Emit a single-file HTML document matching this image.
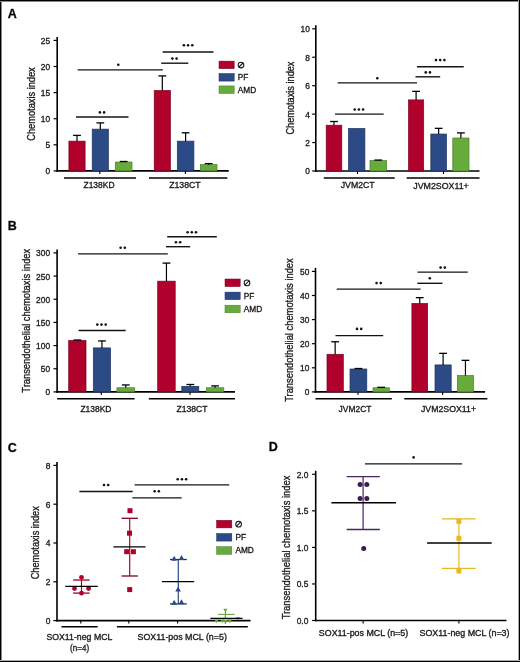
<!DOCTYPE html>
<html><head><meta charset="utf-8"><title>Figure</title>
<style>
html,body{margin:0;padding:0;background:#fff;}
svg{display:block;will-change:transform;font-family:"Liberation Sans", sans-serif;}
text{stroke:#1a1a1a;stroke-width:0.32px;}
</style></head>
<body>
<svg width="520" height="662" viewBox="0 0 520 662">
<rect x="0" y="0" width="520" height="662" fill="#fff"/>
<line x1="0.50" y1="0.00" x2="0.50" y2="662.00" stroke="#000" stroke-width="1"/>
<line x1="1.50" y1="0.00" x2="1.50" y2="662.00" stroke="#888" stroke-width="1"/>
<line x1="0.00" y1="0.50" x2="520.00" y2="0.50" stroke="#000" stroke-width="1"/>
<line x1="0.00" y1="1.50" x2="520.00" y2="1.50" stroke="#888" stroke-width="1"/>
<line x1="519.50" y1="0.00" x2="519.50" y2="662.00" stroke="#000" stroke-width="1"/>
<line x1="518.50" y1="0.00" x2="518.50" y2="662.00" stroke="#aaa" stroke-width="1"/>
<line x1="0.00" y1="661.50" x2="520.00" y2="661.50" stroke="#000" stroke-width="1"/>
<line x1="0.00" y1="660.50" x2="520.00" y2="660.50" stroke="#aaa" stroke-width="1"/>
<text x="7.80" y="18.30" font-size="12.5" text-anchor="start" font-weight="bold" fill="#000">A</text>
<text x="7.80" y="229.50" font-size="12.5" text-anchor="start" font-weight="bold" fill="#000">B</text>
<text x="7.80" y="451.50" font-size="12.5" text-anchor="start" font-weight="bold" fill="#000">C</text>
<text x="268.80" y="451.00" font-size="12.5" text-anchor="start" font-weight="bold" fill="#000">D</text>
<line x1="57.20" y1="36.90" x2="57.20" y2="171.70" stroke="#000" stroke-width="1.6"/>
<line x1="53.60" y1="170.90" x2="57.20" y2="170.90" stroke="#000" stroke-width="1.2"/>
<text x="50.20" y="174.32" font-size="8.4" text-anchor="end" font-weight="normal" fill="#1a1a1a">0</text>
<line x1="53.60" y1="144.80" x2="57.20" y2="144.80" stroke="#000" stroke-width="1.2"/>
<text x="50.20" y="148.22" font-size="8.4" text-anchor="end" font-weight="normal" fill="#1a1a1a">5</text>
<line x1="53.60" y1="118.70" x2="57.20" y2="118.70" stroke="#000" stroke-width="1.2"/>
<text x="50.20" y="122.12" font-size="8.4" text-anchor="end" font-weight="normal" fill="#1a1a1a">10</text>
<line x1="53.60" y1="92.60" x2="57.20" y2="92.60" stroke="#000" stroke-width="1.2"/>
<text x="50.20" y="96.02" font-size="8.4" text-anchor="end" font-weight="normal" fill="#1a1a1a">15</text>
<line x1="53.60" y1="66.50" x2="57.20" y2="66.50" stroke="#000" stroke-width="1.2"/>
<text x="50.20" y="69.92" font-size="8.4" text-anchor="end" font-weight="normal" fill="#1a1a1a">20</text>
<line x1="53.60" y1="40.40" x2="57.20" y2="40.40" stroke="#000" stroke-width="1.2"/>
<text x="50.20" y="43.82" font-size="8.4" text-anchor="end" font-weight="normal" fill="#1a1a1a">25</text>
<text x="34.60" y="104.00" font-size="10.0" text-anchor="middle" font-weight="normal" fill="#1a1a1a" textLength="73.40" lengthAdjust="spacingAndGlyphs" transform="rotate(-90 34.60 104.00)">Chemotaxis index</text>
<line x1="56.40" y1="170.90" x2="228.80" y2="170.90" stroke="#000" stroke-width="1.6"/>
<line x1="99.80" y1="170.90" x2="99.80" y2="173.90" stroke="#000" stroke-width="1.1"/>
<line x1="185.40" y1="170.90" x2="185.40" y2="173.90" stroke="#000" stroke-width="1.1"/>
<rect x="68.90" y="141.15" width="16.20" height="29.75" fill="#b0002c" stroke="#7d0020" stroke-width="0.7"/>
<line x1="77.00" y1="135.40" x2="77.00" y2="141.15" stroke="#000" stroke-width="1.2"/>
<line x1="73.10" y1="135.40" x2="80.90" y2="135.40" stroke="#000" stroke-width="1.3"/>
<rect x="92.20" y="129.14" width="16.20" height="41.76" fill="#2c4a86" stroke="#1e3462" stroke-width="0.7"/>
<line x1="100.30" y1="122.88" x2="100.30" y2="129.14" stroke="#000" stroke-width="1.2"/>
<line x1="96.40" y1="122.88" x2="104.20" y2="122.88" stroke="#000" stroke-width="1.3"/>
<rect x="115.30" y="162.03" width="16.70" height="8.87" fill="#66ab3c" stroke="#4a7f2a" stroke-width="0.7"/>
<line x1="123.65" y1="161.50" x2="123.65" y2="162.03" stroke="#000" stroke-width="1.2"/>
<line x1="119.75" y1="161.50" x2="127.55" y2="161.50" stroke="#000" stroke-width="1.3"/>
<rect x="154.20" y="90.51" width="16.20" height="80.39" fill="#b0002c" stroke="#7d0020" stroke-width="0.7"/>
<line x1="162.30" y1="75.90" x2="162.30" y2="90.51" stroke="#000" stroke-width="1.2"/>
<line x1="158.40" y1="75.90" x2="166.20" y2="75.90" stroke="#000" stroke-width="1.3"/>
<rect x="177.30" y="141.15" width="16.60" height="29.75" fill="#2c4a86" stroke="#1e3462" stroke-width="0.7"/>
<line x1="185.60" y1="132.79" x2="185.60" y2="141.15" stroke="#000" stroke-width="1.2"/>
<line x1="181.70" y1="132.79" x2="189.50" y2="132.79" stroke="#000" stroke-width="1.3"/>
<rect x="200.40" y="164.64" width="16.60" height="6.26" fill="#66ab3c" stroke="#4a7f2a" stroke-width="0.7"/>
<line x1="208.70" y1="163.59" x2="208.70" y2="164.64" stroke="#000" stroke-width="1.2"/>
<line x1="204.80" y1="163.59" x2="212.60" y2="163.59" stroke="#000" stroke-width="1.3"/>
<line x1="64.00" y1="177.90" x2="136.00" y2="177.90" stroke="#000" stroke-width="1.5"/>
<line x1="149.00" y1="177.90" x2="227.40" y2="177.90" stroke="#000" stroke-width="1.5"/>
<text x="99.00" y="188.10" font-size="8.6" text-anchor="middle" font-weight="normal" fill="#1a1a1a" textLength="31.00" lengthAdjust="spacingAndGlyphs">Z138KD</text>
<text x="184.90" y="188.10" font-size="8.6" text-anchor="middle" font-weight="normal" fill="#1a1a1a" textLength="31.50" lengthAdjust="spacingAndGlyphs">Z138CT</text>
<line x1="76.00" y1="117.00" x2="128.50" y2="117.00" stroke="#151515" stroke-width="1.4"/>
<circle cx="99.90" cy="112.40" r="1.3" fill="#111"/>
<circle cx="104.10" cy="112.40" r="1.3" fill="#111"/>
<line x1="77.70" y1="69.90" x2="162.80" y2="69.90" stroke="#151515" stroke-width="1.4"/>
<circle cx="118.30" cy="64.70" r="1.3" fill="#111"/>
<line x1="161.20" y1="63.20" x2="188.30" y2="63.20" stroke="#151515" stroke-width="1.4"/>
<circle cx="172.40" cy="58.60" r="1.3" fill="#111"/>
<circle cx="176.60" cy="58.60" r="1.3" fill="#111"/>
<line x1="162.70" y1="52.00" x2="213.50" y2="52.00" stroke="#151515" stroke-width="1.4"/>
<circle cx="183.90" cy="45.20" r="1.3" fill="#111"/>
<circle cx="188.10" cy="45.20" r="1.3" fill="#111"/>
<circle cx="192.30" cy="45.20" r="1.3" fill="#111"/>
<rect x="219.00" y="61.10" width="15.20" height="7.60" fill="#b0002c" stroke="#7d0020" stroke-width="0.5"/>
<circle cx="241.00" cy="65.00" r="2.85" fill="none" stroke="#1a1a1a" stroke-width="1.05"/>
<line x1="239.00" y1="67.00" x2="243.00" y2="63.00" stroke="#1a1a1a" stroke-width="1.1"/>
<rect x="219.00" y="73.50" width="15.20" height="7.60" fill="#2c4a86" stroke="#1e3462" stroke-width="0.5"/>
<text x="237.80" y="80.29" font-size="8.3" text-anchor="start" font-weight="normal" fill="#1a1a1a">PF</text>
<rect x="219.00" y="85.90" width="15.20" height="7.60" fill="#66ab3c" stroke="#4a7f2a" stroke-width="0.5"/>
<text x="237.80" y="92.69" font-size="8.3" text-anchor="start" font-weight="normal" fill="#1a1a1a">AMD</text>
<line x1="315.80" y1="25.30" x2="315.80" y2="171.80" stroke="#000" stroke-width="1.6"/>
<line x1="312.20" y1="171.00" x2="315.80" y2="171.00" stroke="#000" stroke-width="1.2"/>
<text x="309.90" y="174.42" font-size="8.4" text-anchor="end" font-weight="normal" fill="#1a1a1a">0</text>
<line x1="312.20" y1="142.56" x2="315.80" y2="142.56" stroke="#000" stroke-width="1.2"/>
<text x="309.90" y="145.98" font-size="8.4" text-anchor="end" font-weight="normal" fill="#1a1a1a">2</text>
<line x1="312.20" y1="114.12" x2="315.80" y2="114.12" stroke="#000" stroke-width="1.2"/>
<text x="309.90" y="117.54" font-size="8.4" text-anchor="end" font-weight="normal" fill="#1a1a1a">4</text>
<line x1="312.20" y1="85.68" x2="315.80" y2="85.68" stroke="#000" stroke-width="1.2"/>
<text x="309.90" y="89.10" font-size="8.4" text-anchor="end" font-weight="normal" fill="#1a1a1a">6</text>
<line x1="312.20" y1="57.24" x2="315.80" y2="57.24" stroke="#000" stroke-width="1.2"/>
<text x="309.90" y="60.66" font-size="8.4" text-anchor="end" font-weight="normal" fill="#1a1a1a">8</text>
<line x1="312.20" y1="28.80" x2="315.80" y2="28.80" stroke="#000" stroke-width="1.2"/>
<text x="309.90" y="32.22" font-size="8.4" text-anchor="end" font-weight="normal" fill="#1a1a1a">10</text>
<text x="294.00" y="98.05" font-size="10.0" text-anchor="middle" font-weight="normal" fill="#1a1a1a" textLength="73.00" lengthAdjust="spacingAndGlyphs" transform="rotate(-90 294.00 98.05)">Chemotaxis index</text>
<line x1="315.00" y1="171.00" x2="479.50" y2="171.00" stroke="#000" stroke-width="1.6"/>
<line x1="357.50" y1="171.00" x2="357.50" y2="174.00" stroke="#000" stroke-width="1.1"/>
<line x1="443.50" y1="171.00" x2="443.50" y2="174.00" stroke="#000" stroke-width="1.1"/>
<rect x="326.20" y="125.21" width="15.60" height="45.79" fill="#b0002c" stroke="#7d0020" stroke-width="0.7"/>
<line x1="334.00" y1="121.51" x2="334.00" y2="125.21" stroke="#000" stroke-width="1.2"/>
<line x1="330.10" y1="121.51" x2="337.90" y2="121.51" stroke="#000" stroke-width="1.3"/>
<rect x="348.50" y="128.48" width="16.40" height="42.52" fill="#2c4a86" stroke="#1e3462" stroke-width="0.7"/>
<rect x="370.00" y="160.48" width="16.60" height="10.52" fill="#66ab3c" stroke="#4a7f2a" stroke-width="0.7"/>
<line x1="378.30" y1="160.05" x2="378.30" y2="160.48" stroke="#000" stroke-width="1.2"/>
<line x1="374.40" y1="160.05" x2="382.20" y2="160.05" stroke="#000" stroke-width="1.3"/>
<rect x="408.50" y="99.90" width="15.20" height="71.10" fill="#b0002c" stroke="#7d0020" stroke-width="0.7"/>
<line x1="416.10" y1="91.37" x2="416.10" y2="99.90" stroke="#000" stroke-width="1.2"/>
<line x1="412.20" y1="91.37" x2="420.00" y2="91.37" stroke="#000" stroke-width="1.3"/>
<rect x="430.80" y="134.03" width="15.70" height="36.97" fill="#2c4a86" stroke="#1e3462" stroke-width="0.7"/>
<line x1="438.65" y1="128.34" x2="438.65" y2="134.03" stroke="#000" stroke-width="1.2"/>
<line x1="434.75" y1="128.34" x2="442.55" y2="128.34" stroke="#000" stroke-width="1.3"/>
<rect x="452.80" y="138.01" width="16.20" height="32.99" fill="#66ab3c" stroke="#4a7f2a" stroke-width="0.7"/>
<line x1="460.90" y1="132.89" x2="460.90" y2="138.01" stroke="#000" stroke-width="1.2"/>
<line x1="457.00" y1="132.89" x2="464.80" y2="132.89" stroke="#000" stroke-width="1.3"/>
<line x1="323.80" y1="178.00" x2="394.70" y2="178.00" stroke="#000" stroke-width="1.5"/>
<line x1="406.60" y1="178.00" x2="479.50" y2="178.00" stroke="#000" stroke-width="1.5"/>
<text x="357.70" y="188.30" font-size="8.6" text-anchor="middle" font-weight="normal" fill="#1a1a1a" textLength="34.00" lengthAdjust="spacingAndGlyphs">JVM2CT</text>
<text x="441.00" y="188.70" font-size="8.6" text-anchor="middle" font-weight="normal" fill="#1a1a1a" textLength="55.50" lengthAdjust="spacingAndGlyphs">JVM2SOX11+</text>
<line x1="335.00" y1="114.10" x2="383.70" y2="114.10" stroke="#151515" stroke-width="1.4"/>
<circle cx="354.70" cy="109.50" r="1.3" fill="#111"/>
<circle cx="358.90" cy="109.50" r="1.3" fill="#111"/>
<circle cx="363.10" cy="109.50" r="1.3" fill="#111"/>
<line x1="337.70" y1="82.90" x2="417.00" y2="82.90" stroke="#151515" stroke-width="1.4"/>
<circle cx="377.30" cy="78.30" r="1.3" fill="#111"/>
<line x1="415.50" y1="76.80" x2="440.20" y2="76.80" stroke="#151515" stroke-width="1.4"/>
<circle cx="425.75" cy="72.40" r="1.3" fill="#111"/>
<circle cx="429.95" cy="72.40" r="1.3" fill="#111"/>
<line x1="416.90" y1="66.70" x2="463.70" y2="66.70" stroke="#151515" stroke-width="1.4"/>
<circle cx="436.00" cy="60.10" r="1.3" fill="#111"/>
<circle cx="440.20" cy="60.10" r="1.3" fill="#111"/>
<circle cx="444.40" cy="60.10" r="1.3" fill="#111"/>
<line x1="57.10" y1="249.41" x2="57.10" y2="392.70" stroke="#000" stroke-width="1.6"/>
<line x1="53.50" y1="391.90" x2="57.10" y2="391.90" stroke="#000" stroke-width="1.2"/>
<text x="50.10" y="395.32" font-size="8.4" text-anchor="end" font-weight="normal" fill="#1a1a1a">0</text>
<line x1="53.50" y1="368.73" x2="57.10" y2="368.73" stroke="#000" stroke-width="1.2"/>
<text x="50.10" y="372.16" font-size="8.4" text-anchor="end" font-weight="normal" fill="#1a1a1a">50</text>
<line x1="53.50" y1="345.57" x2="57.10" y2="345.57" stroke="#000" stroke-width="1.2"/>
<text x="50.10" y="348.99" font-size="8.4" text-anchor="end" font-weight="normal" fill="#1a1a1a">100</text>
<line x1="53.50" y1="322.40" x2="57.10" y2="322.40" stroke="#000" stroke-width="1.2"/>
<text x="50.10" y="325.83" font-size="8.4" text-anchor="end" font-weight="normal" fill="#1a1a1a">150</text>
<line x1="53.50" y1="299.24" x2="57.10" y2="299.24" stroke="#000" stroke-width="1.2"/>
<text x="50.10" y="302.66" font-size="8.4" text-anchor="end" font-weight="normal" fill="#1a1a1a">200</text>
<line x1="53.50" y1="276.07" x2="57.10" y2="276.07" stroke="#000" stroke-width="1.2"/>
<text x="50.10" y="279.50" font-size="8.4" text-anchor="end" font-weight="normal" fill="#1a1a1a">250</text>
<line x1="53.50" y1="252.91" x2="57.10" y2="252.91" stroke="#000" stroke-width="1.2"/>
<text x="50.10" y="256.33" font-size="8.4" text-anchor="end" font-weight="normal" fill="#1a1a1a">300</text>
<text x="29.60" y="320.75" font-size="10.0" text-anchor="middle" font-weight="normal" fill="#1a1a1a" textLength="144.00" lengthAdjust="spacingAndGlyphs" transform="rotate(-90 29.60 320.75)">Transendothelial chemotaxis index</text>
<line x1="56.30" y1="391.90" x2="235.00" y2="391.90" stroke="#000" stroke-width="1.6"/>
<line x1="101.30" y1="391.90" x2="101.30" y2="394.90" stroke="#000" stroke-width="1.1"/>
<line x1="190.00" y1="391.90" x2="190.00" y2="394.90" stroke="#000" stroke-width="1.1"/>
<rect x="68.70" y="340.47" width="17.30" height="51.43" fill="#b0002c" stroke="#7d0020" stroke-width="0.7"/>
<line x1="77.35" y1="340.01" x2="77.35" y2="340.47" stroke="#000" stroke-width="1.2"/>
<line x1="73.45" y1="340.01" x2="81.25" y2="340.01" stroke="#000" stroke-width="1.3"/>
<rect x="93.30" y="347.89" width="17.30" height="44.01" fill="#2c4a86" stroke="#1e3462" stroke-width="0.7"/>
<line x1="101.95" y1="340.94" x2="101.95" y2="347.89" stroke="#000" stroke-width="1.2"/>
<line x1="98.05" y1="340.94" x2="105.85" y2="340.94" stroke="#000" stroke-width="1.3"/>
<rect x="116.90" y="387.73" width="17.70" height="4.17" fill="#66ab3c" stroke="#4a7f2a" stroke-width="0.7"/>
<line x1="125.75" y1="384.95" x2="125.75" y2="387.73" stroke="#000" stroke-width="1.2"/>
<line x1="121.85" y1="384.95" x2="129.65" y2="384.95" stroke="#000" stroke-width="1.3"/>
<rect x="157.70" y="281.17" width="17.50" height="110.73" fill="#b0002c" stroke="#7d0020" stroke-width="0.7"/>
<line x1="166.45" y1="263.10" x2="166.45" y2="281.17" stroke="#000" stroke-width="1.2"/>
<line x1="162.55" y1="263.10" x2="170.35" y2="263.10" stroke="#000" stroke-width="1.3"/>
<rect x="181.80" y="386.34" width="17.00" height="5.56" fill="#2c4a86" stroke="#1e3462" stroke-width="0.7"/>
<line x1="190.30" y1="384.49" x2="190.30" y2="386.34" stroke="#000" stroke-width="1.2"/>
<line x1="186.40" y1="384.49" x2="194.20" y2="384.49" stroke="#000" stroke-width="1.3"/>
<rect x="206.30" y="387.73" width="17.50" height="4.17" fill="#66ab3c" stroke="#4a7f2a" stroke-width="0.7"/>
<line x1="215.05" y1="385.88" x2="215.05" y2="387.73" stroke="#000" stroke-width="1.2"/>
<line x1="211.15" y1="385.88" x2="218.95" y2="385.88" stroke="#000" stroke-width="1.3"/>
<line x1="57.10" y1="398.70" x2="134.60" y2="398.70" stroke="#000" stroke-width="1.5"/>
<line x1="148.80" y1="398.70" x2="235.00" y2="398.70" stroke="#000" stroke-width="1.5"/>
<text x="95.90" y="411.80" font-size="8.6" text-anchor="middle" font-weight="normal" fill="#1a1a1a" textLength="31.00" lengthAdjust="spacingAndGlyphs">Z138KD</text>
<text x="191.90" y="411.80" font-size="8.6" text-anchor="middle" font-weight="normal" fill="#1a1a1a" textLength="31.00" lengthAdjust="spacingAndGlyphs">Z138CT</text>
<line x1="78.60" y1="330.50" x2="125.70" y2="330.50" stroke="#151515" stroke-width="1.4"/>
<circle cx="97.30" cy="324.60" r="1.3" fill="#111"/>
<circle cx="101.50" cy="324.60" r="1.3" fill="#111"/>
<circle cx="105.70" cy="324.60" r="1.3" fill="#111"/>
<line x1="78.10" y1="253.90" x2="167.80" y2="253.90" stroke="#151515" stroke-width="1.4"/>
<circle cx="120.60" cy="247.80" r="1.3" fill="#111"/>
<circle cx="124.80" cy="247.80" r="1.3" fill="#111"/>
<line x1="166.00" y1="246.70" x2="190.20" y2="246.70" stroke="#151515" stroke-width="1.4"/>
<circle cx="175.95" cy="242.30" r="1.3" fill="#111"/>
<circle cx="180.15" cy="242.30" r="1.3" fill="#111"/>
<line x1="167.20" y1="236.80" x2="216.80" y2="236.80" stroke="#151515" stroke-width="1.4"/>
<circle cx="187.60" cy="232.30" r="1.3" fill="#111"/>
<circle cx="191.80" cy="232.30" r="1.3" fill="#111"/>
<circle cx="196.00" cy="232.30" r="1.3" fill="#111"/>
<rect x="225.00" y="279.00" width="15.20" height="7.60" fill="#b0002c" stroke="#7d0020" stroke-width="0.5"/>
<circle cx="247.00" cy="282.90" r="2.85" fill="none" stroke="#1a1a1a" stroke-width="1.05"/>
<line x1="245.00" y1="284.90" x2="249.00" y2="280.90" stroke="#1a1a1a" stroke-width="1.1"/>
<rect x="225.00" y="292.10" width="15.20" height="7.60" fill="#2c4a86" stroke="#1e3462" stroke-width="0.5"/>
<text x="243.80" y="298.89" font-size="8.3" text-anchor="start" font-weight="normal" fill="#1a1a1a">PF</text>
<rect x="225.00" y="305.20" width="15.20" height="7.60" fill="#66ab3c" stroke="#4a7f2a" stroke-width="0.5"/>
<text x="243.80" y="311.99" font-size="8.3" text-anchor="start" font-weight="normal" fill="#1a1a1a">AMD</text>
<line x1="315.50" y1="267.90" x2="315.50" y2="392.70" stroke="#000" stroke-width="1.6"/>
<line x1="311.90" y1="391.90" x2="315.50" y2="391.90" stroke="#000" stroke-width="1.2"/>
<text x="309.40" y="395.32" font-size="8.4" text-anchor="end" font-weight="normal" fill="#1a1a1a">0</text>
<line x1="311.90" y1="367.80" x2="315.50" y2="367.80" stroke="#000" stroke-width="1.2"/>
<text x="309.40" y="371.22" font-size="8.4" text-anchor="end" font-weight="normal" fill="#1a1a1a">10</text>
<line x1="311.90" y1="343.70" x2="315.50" y2="343.70" stroke="#000" stroke-width="1.2"/>
<text x="309.40" y="347.12" font-size="8.4" text-anchor="end" font-weight="normal" fill="#1a1a1a">20</text>
<line x1="311.90" y1="319.60" x2="315.50" y2="319.60" stroke="#000" stroke-width="1.2"/>
<text x="309.40" y="323.02" font-size="8.4" text-anchor="end" font-weight="normal" fill="#1a1a1a">30</text>
<line x1="311.90" y1="295.50" x2="315.50" y2="295.50" stroke="#000" stroke-width="1.2"/>
<text x="309.40" y="298.92" font-size="8.4" text-anchor="end" font-weight="normal" fill="#1a1a1a">40</text>
<line x1="311.90" y1="271.40" x2="315.50" y2="271.40" stroke="#000" stroke-width="1.2"/>
<text x="309.40" y="274.82" font-size="8.4" text-anchor="end" font-weight="normal" fill="#1a1a1a">50</text>
<text x="292.80" y="330.05" font-size="10.0" text-anchor="middle" font-weight="normal" fill="#1a1a1a" textLength="143.60" lengthAdjust="spacingAndGlyphs" transform="rotate(-90 292.80 330.05)">Transendothelial chemotaxis index</text>
<line x1="314.70" y1="391.90" x2="485.10" y2="391.90" stroke="#000" stroke-width="1.6"/>
<line x1="358.00" y1="391.90" x2="358.00" y2="394.90" stroke="#000" stroke-width="1.1"/>
<line x1="442.60" y1="391.90" x2="442.60" y2="394.90" stroke="#000" stroke-width="1.1"/>
<rect x="327.00" y="354.30" width="16.30" height="37.60" fill="#b0002c" stroke="#7d0020" stroke-width="0.7"/>
<line x1="335.15" y1="341.77" x2="335.15" y2="354.30" stroke="#000" stroke-width="1.2"/>
<line x1="331.25" y1="341.77" x2="339.05" y2="341.77" stroke="#000" stroke-width="1.3"/>
<rect x="350.00" y="369.00" width="16.80" height="22.89" fill="#2c4a86" stroke="#1e3462" stroke-width="0.7"/>
<line x1="358.40" y1="368.52" x2="358.40" y2="369.00" stroke="#000" stroke-width="1.2"/>
<line x1="354.50" y1="368.52" x2="362.30" y2="368.52" stroke="#000" stroke-width="1.3"/>
<rect x="373.00" y="387.80" width="16.50" height="4.10" fill="#66ab3c" stroke="#4a7f2a" stroke-width="0.7"/>
<line x1="381.25" y1="387.32" x2="381.25" y2="387.80" stroke="#000" stroke-width="1.2"/>
<line x1="377.35" y1="387.32" x2="385.15" y2="387.32" stroke="#000" stroke-width="1.3"/>
<rect x="411.90" y="303.45" width="15.70" height="88.45" fill="#b0002c" stroke="#7d0020" stroke-width="0.7"/>
<line x1="419.75" y1="297.67" x2="419.75" y2="303.45" stroke="#000" stroke-width="1.2"/>
<line x1="415.85" y1="297.67" x2="423.65" y2="297.67" stroke="#000" stroke-width="1.3"/>
<rect x="435.00" y="364.91" width="16.20" height="26.99" fill="#2c4a86" stroke="#1e3462" stroke-width="0.7"/>
<line x1="443.10" y1="353.34" x2="443.10" y2="364.91" stroke="#000" stroke-width="1.2"/>
<line x1="439.20" y1="353.34" x2="447.00" y2="353.34" stroke="#000" stroke-width="1.3"/>
<rect x="457.40" y="375.51" width="16.10" height="16.39" fill="#66ab3c" stroke="#4a7f2a" stroke-width="0.7"/>
<line x1="465.45" y1="360.33" x2="465.45" y2="375.51" stroke="#000" stroke-width="1.2"/>
<line x1="461.55" y1="360.33" x2="469.35" y2="360.33" stroke="#000" stroke-width="1.3"/>
<line x1="315.50" y1="398.80" x2="391.80" y2="398.80" stroke="#000" stroke-width="1.5"/>
<line x1="404.30" y1="398.80" x2="487.40" y2="398.80" stroke="#000" stroke-width="1.5"/>
<text x="355.00" y="411.60" font-size="8.6" text-anchor="middle" font-weight="normal" fill="#1a1a1a" textLength="32.80" lengthAdjust="spacingAndGlyphs">JVM2CT</text>
<text x="448.50" y="411.60" font-size="8.6" text-anchor="middle" font-weight="normal" fill="#1a1a1a" textLength="55.00" lengthAdjust="spacingAndGlyphs">JVM2SOX11+</text>
<line x1="335.50" y1="335.60" x2="383.20" y2="335.60" stroke="#151515" stroke-width="1.4"/>
<circle cx="357.00" cy="328.90" r="1.3" fill="#111"/>
<circle cx="361.20" cy="328.90" r="1.3" fill="#111"/>
<line x1="336.70" y1="289.10" x2="420.60" y2="289.10" stroke="#151515" stroke-width="1.4"/>
<circle cx="376.55" cy="283.10" r="1.3" fill="#111"/>
<circle cx="380.75" cy="283.10" r="1.3" fill="#111"/>
<line x1="417.30" y1="283.30" x2="442.50" y2="283.30" stroke="#151515" stroke-width="1.4"/>
<circle cx="429.80" cy="278.30" r="1.3" fill="#111"/>
<line x1="417.50" y1="272.10" x2="467.80" y2="272.10" stroke="#151515" stroke-width="1.4"/>
<circle cx="440.60" cy="267.60" r="1.3" fill="#111"/>
<circle cx="444.80" cy="267.60" r="1.3" fill="#111"/>
<line x1="57.00" y1="461.90" x2="57.00" y2="621.40" stroke="#000" stroke-width="1.6"/>
<line x1="53.40" y1="620.60" x2="57.00" y2="620.60" stroke="#000" stroke-width="1.2"/>
<text x="50.40" y="624.02" font-size="8.4" text-anchor="end" font-weight="normal" fill="#1a1a1a">0</text>
<line x1="53.40" y1="581.80" x2="57.00" y2="581.80" stroke="#000" stroke-width="1.2"/>
<text x="50.40" y="585.22" font-size="8.4" text-anchor="end" font-weight="normal" fill="#1a1a1a">2</text>
<line x1="53.40" y1="543.00" x2="57.00" y2="543.00" stroke="#000" stroke-width="1.2"/>
<text x="50.40" y="546.42" font-size="8.4" text-anchor="end" font-weight="normal" fill="#1a1a1a">4</text>
<line x1="53.40" y1="504.20" x2="57.00" y2="504.20" stroke="#000" stroke-width="1.2"/>
<text x="50.40" y="507.62" font-size="8.4" text-anchor="end" font-weight="normal" fill="#1a1a1a">6</text>
<line x1="53.40" y1="465.40" x2="57.00" y2="465.40" stroke="#000" stroke-width="1.2"/>
<text x="50.40" y="468.82" font-size="8.4" text-anchor="end" font-weight="normal" fill="#1a1a1a">8</text>
<text x="39.30" y="542.75" font-size="10.0" text-anchor="middle" font-weight="normal" fill="#1a1a1a" textLength="73.20" lengthAdjust="spacingAndGlyphs" transform="rotate(-90 39.30 542.75)">Chemotaxis index</text>
<line x1="56.20" y1="620.60" x2="250.50" y2="620.60" stroke="#000" stroke-width="1.6"/>
<line x1="80.80" y1="620.60" x2="80.80" y2="623.60" stroke="#000" stroke-width="1.1"/>
<line x1="128.80" y1="620.60" x2="128.80" y2="623.60" stroke="#000" stroke-width="1.1"/>
<line x1="177.60" y1="620.60" x2="177.60" y2="623.60" stroke="#000" stroke-width="1.1"/>
<line x1="225.40" y1="620.60" x2="225.40" y2="623.60" stroke="#000" stroke-width="1.1"/>
<line x1="61.50" y1="626.80" x2="97.70" y2="626.80" stroke="#000" stroke-width="1.5"/>
<line x1="116.90" y1="626.80" x2="247.80" y2="626.80" stroke="#000" stroke-width="1.5"/>
<text x="79.40" y="640.20" font-size="8.6" text-anchor="middle" font-weight="normal" fill="#1a1a1a" textLength="66.00" lengthAdjust="spacingAndGlyphs">SOX11-neg MCL</text>
<text x="79.60" y="650.80" font-size="8.6" text-anchor="middle" font-weight="normal" fill="#1a1a1a" textLength="19.00" lengthAdjust="spacingAndGlyphs">(n=4)</text>
<text x="182.20" y="640.20" font-size="8.6" text-anchor="middle" font-weight="normal" fill="#1a1a1a" textLength="89.30" lengthAdjust="spacingAndGlyphs">SOX11-pos MCL (n=5)</text>
<line x1="81.50" y1="580.00" x2="81.50" y2="593.10" stroke="#b0002c" stroke-width="1.2"/>
<line x1="73.10" y1="580.00" x2="89.60" y2="580.00" stroke="#9c0028" stroke-width="1.3"/>
<line x1="73.10" y1="593.10" x2="89.60" y2="593.10" stroke="#9c0028" stroke-width="1.3"/>
<circle cx="81.5" cy="577.3" r="2.4" fill="#b0002c"/>
<circle cx="74.5" cy="588.5" r="2.4" fill="#b0002c"/>
<circle cx="88.6" cy="588.5" r="2.4" fill="#b0002c"/>
<circle cx="81.5" cy="593.2" r="2.4" fill="#b0002c"/>
<line x1="65.20" y1="586.30" x2="97.80" y2="586.30" stroke="#000" stroke-width="1.3"/>
<line x1="129.70" y1="518.30" x2="129.70" y2="576.00" stroke="#b0002c" stroke-width="1.2"/>
<line x1="121.60" y1="518.30" x2="137.90" y2="518.30" stroke="#7d0020" stroke-width="1.3"/>
<line x1="121.60" y1="576.00" x2="137.90" y2="576.00" stroke="#7d0020" stroke-width="1.3"/>
<rect x="127.50" y="508.20" width="5.00" height="5.00" fill="#b0002c"/>
<rect x="127.00" y="530.70" width="5.00" height="5.00" fill="#b0002c"/>
<rect x="124.20" y="549.20" width="5.00" height="5.00" fill="#b0002c"/>
<rect x="130.90" y="549.20" width="5.00" height="5.00" fill="#b0002c"/>
<rect x="127.20" y="587.10" width="5.00" height="5.00" fill="#b0002c"/>
<line x1="113.40" y1="546.90" x2="145.60" y2="546.90" stroke="#000" stroke-width="1.3"/>
<line x1="178.30" y1="559.50" x2="178.30" y2="603.90" stroke="#2c4a86" stroke-width="1.2"/>
<line x1="170.00" y1="559.50" x2="186.80" y2="559.50" stroke="#1e3462" stroke-width="1.3"/>
<line x1="170.00" y1="603.90" x2="186.80" y2="603.90" stroke="#1e3462" stroke-width="1.3"/>
<path d="M171.40 560.70 L174.20 555.70 L177.00 560.70 Z" fill="#2c4a86"/>
<path d="M178.70 559.90 L181.50 554.90 L184.30 559.90 Z" fill="#2c4a86"/>
<path d="M175.30 591.50 L178.10 586.50 L180.90 591.50 Z" fill="#2c4a86"/>
<path d="M171.40 604.70 L174.20 599.70 L177.00 604.70 Z" fill="#2c4a86"/>
<path d="M178.70 604.20 L181.50 599.20 L184.30 604.20 Z" fill="#2c4a86"/>
<line x1="161.90" y1="581.60" x2="194.20" y2="581.60" stroke="#000" stroke-width="1.4"/>
<line x1="225.40" y1="610.40" x2="225.40" y2="618.30" stroke="#66ab3c" stroke-width="1.2"/>
<line x1="218.00" y1="614.40" x2="234.60" y2="614.40" stroke="#66ab3c" stroke-width="1.1"/>
<path d="M223.30 608.70 L225.40 612.40 L227.50 608.70 Z" fill="#66ab3c"/>
<path d="M214.40 619.60 L216.50 623.30 L218.60 619.60 Z" fill="#66ab3c"/>
<path d="M220.20 619.60 L222.30 623.30 L224.40 619.60 Z" fill="#66ab3c"/>
<path d="M223.60 620.10 L225.70 623.80 L227.80 620.10 Z" fill="#66ab3c"/>
<path d="M227.70 619.60 L229.80 623.30 L231.90 619.60 Z" fill="#66ab3c"/>
<path d="M235.60 616.90 L237.70 620.60 L239.80 616.90 Z" fill="#66ab3c"/>
<line x1="210.30" y1="618.30" x2="242.50" y2="618.30" stroke="#000" stroke-width="1.3"/>
<line x1="79.40" y1="491.50" x2="132.70" y2="491.50" stroke="#151515" stroke-width="1.4"/>
<circle cx="104.00" cy="485.00" r="1.3" fill="#111"/>
<circle cx="108.20" cy="485.00" r="1.3" fill="#111"/>
<line x1="134.60" y1="484.90" x2="229.20" y2="484.90" stroke="#151515" stroke-width="1.4"/>
<circle cx="177.70" cy="479.30" r="1.3" fill="#111"/>
<circle cx="181.90" cy="479.30" r="1.3" fill="#111"/>
<circle cx="186.10" cy="479.30" r="1.3" fill="#111"/>
<line x1="132.30" y1="497.90" x2="181.70" y2="497.90" stroke="#151515" stroke-width="1.4"/>
<circle cx="154.65" cy="491.20" r="1.3" fill="#111"/>
<circle cx="158.85" cy="491.20" r="1.3" fill="#111"/>
<rect x="216.60" y="520.30" width="15.20" height="7.60" fill="#b0002c" stroke="#7d0020" stroke-width="0.5"/>
<circle cx="238.60" cy="524.20" r="2.85" fill="none" stroke="#1a1a1a" stroke-width="1.05"/>
<line x1="236.60" y1="526.20" x2="240.60" y2="522.20" stroke="#1a1a1a" stroke-width="1.1"/>
<rect x="216.60" y="533.50" width="15.20" height="7.60" fill="#2c4a86" stroke="#1e3462" stroke-width="0.5"/>
<text x="235.40" y="540.29" font-size="8.3" text-anchor="start" font-weight="normal" fill="#1a1a1a">PF</text>
<rect x="216.60" y="546.70" width="15.20" height="7.60" fill="#66ab3c" stroke="#4a7f2a" stroke-width="0.5"/>
<text x="235.40" y="553.49" font-size="8.3" text-anchor="start" font-weight="normal" fill="#1a1a1a">AMD</text>
<line x1="315.70" y1="470.80" x2="315.70" y2="621.30" stroke="#000" stroke-width="1.6"/>
<line x1="312.10" y1="620.50" x2="315.70" y2="620.50" stroke="#000" stroke-width="1.2"/>
<text x="308.30" y="623.92" font-size="8.4" text-anchor="end" font-weight="normal" fill="#1a1a1a">0.0</text>
<line x1="312.10" y1="583.95" x2="315.70" y2="583.95" stroke="#000" stroke-width="1.2"/>
<text x="308.30" y="587.37" font-size="8.4" text-anchor="end" font-weight="normal" fill="#1a1a1a">0.5</text>
<line x1="312.10" y1="547.40" x2="315.70" y2="547.40" stroke="#000" stroke-width="1.2"/>
<text x="308.30" y="550.82" font-size="8.4" text-anchor="end" font-weight="normal" fill="#1a1a1a">1.0</text>
<line x1="312.10" y1="510.85" x2="315.70" y2="510.85" stroke="#000" stroke-width="1.2"/>
<text x="308.30" y="514.27" font-size="8.4" text-anchor="end" font-weight="normal" fill="#1a1a1a">1.5</text>
<line x1="312.10" y1="474.30" x2="315.70" y2="474.30" stroke="#000" stroke-width="1.2"/>
<text x="308.30" y="477.72" font-size="8.4" text-anchor="end" font-weight="normal" fill="#1a1a1a">2.0</text>
<text x="290.30" y="547.50" font-size="10.0" text-anchor="middle" font-weight="normal" fill="#1a1a1a" textLength="143.70" lengthAdjust="spacingAndGlyphs" transform="rotate(-90 290.30 547.50)">Transendothelial chemotaxis index</text>
<line x1="314.90" y1="620.50" x2="506.50" y2="620.50" stroke="#000" stroke-width="1.6"/>
<line x1="363.10" y1="620.50" x2="363.10" y2="623.50" stroke="#000" stroke-width="1.1"/>
<line x1="458.90" y1="620.50" x2="458.90" y2="623.50" stroke="#000" stroke-width="1.1"/>
<text x="363.50" y="635.50" font-size="8.6" text-anchor="middle" font-weight="normal" fill="#1a1a1a" textLength="89.30" lengthAdjust="spacingAndGlyphs">SOX11-pos MCL (n=5)</text>
<text x="464.50" y="635.50" font-size="8.6" text-anchor="middle" font-weight="normal" fill="#1a1a1a" textLength="90.00" lengthAdjust="spacingAndGlyphs">SOX11-neg MCL (n=3)</text>
<line x1="363.10" y1="476.60" x2="363.10" y2="529.50" stroke="#4a2460" stroke-width="1.2"/>
<line x1="346.70" y1="476.60" x2="379.80" y2="476.60" stroke="#4a2460" stroke-width="1.3"/>
<line x1="346.70" y1="529.50" x2="379.80" y2="529.50" stroke="#4a2460" stroke-width="1.3"/>
<circle cx="360.1" cy="484.6" r="2.5" fill="#3e1c52"/>
<circle cx="366.8" cy="484.6" r="2.5" fill="#3e1c52"/>
<circle cx="360.1" cy="498.5" r="2.5" fill="#3e1c52"/>
<circle cx="366.8" cy="498.5" r="2.5" fill="#3e1c52"/>
<circle cx="363.7" cy="548.4" r="2.5" fill="#3e1c52"/>
<line x1="331.40" y1="502.70" x2="396.00" y2="502.70" stroke="#000" stroke-width="1.4"/>
<line x1="458.90" y1="518.90" x2="458.90" y2="568.30" stroke="#e8b820" stroke-width="1.2"/>
<line x1="441.90" y1="518.90" x2="475.60" y2="518.90" stroke="#e8b820" stroke-width="1.3"/>
<line x1="441.90" y1="568.30" x2="475.60" y2="568.30" stroke="#e8b820" stroke-width="1.3"/>
<rect x="456.40" y="518.80" width="5.00" height="5.00" fill="#e8b820"/>
<rect x="456.40" y="535.80" width="5.00" height="5.00" fill="#e8b820"/>
<rect x="456.40" y="568.50" width="5.00" height="5.00" fill="#e8b820"/>
<line x1="427.10" y1="543.00" x2="491.70" y2="543.00" stroke="#000" stroke-width="1.4"/>
<line x1="365.00" y1="463.90" x2="462.10" y2="463.90" stroke="#151515" stroke-width="1.4"/>
<circle cx="413.60" cy="457.40" r="1.3" fill="#111"/>
</svg>
</body></html>
